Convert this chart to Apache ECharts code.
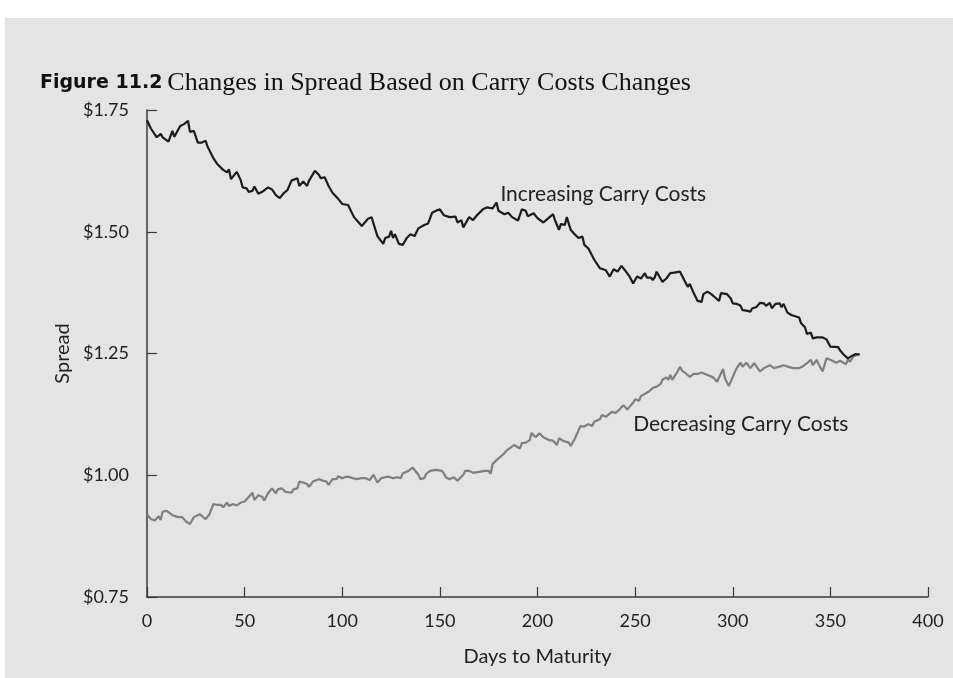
<!DOCTYPE html>
<html>
<head>
<meta charset="utf-8">
<script src="https://cdn.jsdelivr.net/npm/echarts@6/dist/echarts.min.js"></script>
<style>
  html, body { margin: 0; padding: 0; background: #ffffff; }
  #chart { position: absolute; left: 5px; top: 18px; width: 948px; height: 660px; }
</style>
</head>
<body>
<div id="chart"></div>
<script>
// Spread path when carry costs rise (days to maturity, spread in $)
const incDays = [0,2,5,7,8,11,13,14,15,17,19,20,21,22,24,26,28,30,31,32,34,36,37,39,41,42,43,44,46,48,49,51,52,54,55,57,59,60,62,64,66,68,70,72,74,77,78,80,82,83,84,86,88,89,91,93,95,96,98,100,101,103,106,108,110,112,113,115,116,118,119,121,122,124,125,126,127,129,131,132,133,135,137,139,140,142,144,146,148,150,152,155,158,159,161,162,165,167,169,172,174,177,179,180,183,185,187,190,192,194,195,198,200,203,205,208,209,211,212,214,215,217,219,221,223,224,226,227,229,232,235,237,239,241,243,245,247,249,251,253,255,256,258,259,260,261,263,264,266,268,270,271,273,275,276,277,278,280,282,284,285,287,289,290,291,293,294,297,299,300,302,304,305,307,309,310,312,314,316,317,319,320,322,324,325,326,328,330,331,334,335,337,338,340,341,343,346,348,350,351,354,355,357,359,361,363,365];
const incVals = [1.729,1.712,1.694,1.701,1.694,1.685,1.707,1.695,1.694,1.717,1.721,1.719,1.728,1.705,1.707,1.683,1.683,1.687,1.675,1.671,1.651,1.639,1.637,1.627,1.622,1.628,1.608,1.612,1.623,1.606,1.591,1.589,1.582,1.584,1.593,1.578,1.582,1.579,1.591,1.587,1.575,1.569,1.579,1.586,1.605,1.610,1.594,1.603,1.594,1.605,1.603,1.625,1.617,1.610,1.612,1.594,1.580,1.582,1.567,1.557,1.553,1.555,1.530,1.521,1.512,1.521,1.526,1.530,1.517,1.491,1.490,1.475,1.487,1.490,1.502,1.487,1.495,1.475,1.473,1.480,1.487,1.495,1.491,1.507,1.504,1.514,1.517,1.539,1.543,1.546,1.534,1.530,1.531,1.519,1.524,1.509,1.530,1.524,1.534,1.546,1.550,1.548,1.560,1.543,1.536,1.539,1.530,1.523,1.546,1.543,1.532,1.538,1.528,1.519,1.526,1.536,1.523,1.504,1.516,1.514,1.530,1.504,1.495,1.487,1.490,1.473,1.466,1.463,1.443,1.425,1.421,1.408,1.423,1.418,1.430,1.420,1.409,1.394,1.408,1.404,1.415,1.406,1.406,1.401,1.406,1.418,1.404,1.397,1.404,1.415,1.416,1.420,1.418,1.402,1.394,1.387,1.393,1.374,1.358,1.356,1.372,1.377,1.372,1.375,1.365,1.358,1.374,1.372,1.363,1.353,1.352,1.348,1.339,1.338,1.336,1.343,1.345,1.354,1.353,1.348,1.354,1.343,1.352,1.353,1.345,1.352,1.334,1.329,1.327,1.324,1.312,1.304,1.290,1.293,1.281,1.283,1.283,1.279,1.264,1.267,1.263,1.256,1.247,1.240,1.245,1.249,1.248];

// Spread path when carry costs fall
const decDays = [0,1,2,4,6,7,8,10,11,13,14,16,17,18,20,22,24,25,27,28,30,32,34,36,38,39,41,42,44,46,48,50,51,54,55,57,59,60,62,64,66,67,69,71,72,74,75,77,78,80,82,83,85,88,90,92,93,95,97,98,100,102,104,107,108,110,112,114,116,118,120,122,124,126,128,130,131,134,136,137,139,140,142,143,145,148,151,152,153,155,157,159,160,162,163,165,167,168,170,171,173,175,176,177,179,181,183,184,186,188,189,191,192,194,196,197,199,201,203,204,206,208,210,211,213,214,216,217,219,222,224,226,228,229,232,233,235,236,238,240,242,243,244,246,247,249,250,252,253,255,257,259,261,263,264,266,267,268,269,271,273,274,276,278,280,282,284,285,287,290,292,293,295,296,298,300,302,304,305,307,309,311,312,314,316,317,319,321,322,324,326,329,331,334,336,338,340,341,343,344,346,348,350,351,353,355,356,358,359,360,362,363,365];
const decVals = [0.920,0.918,0.910,0.907,0.916,0.908,0.925,0.927,0.925,0.918,0.922,0.914,0.910,0.914,0.905,0.900,0.914,0.910,0.920,0.923,0.910,0.920,0.941,0.939,0.939,0.934,0.944,0.937,0.941,0.938,0.944,0.946,0.946,0.964,0.949,0.959,0.956,0.948,0.963,0.973,0.963,0.971,0.973,0.966,0.968,0.964,0.971,0.973,0.987,0.985,0.982,0.976,0.987,0.992,0.989,0.987,0.980,0.992,0.992,0.998,0.994,0.997,0.996,0.992,0.989,0.994,0.994,0.990,1.001,0.985,0.994,0.996,0.997,0.994,0.996,0.994,1.004,1.009,1.016,1.016,1.001,0.992,0.994,1.003,1.009,1.011,1.009,1.004,0.996,0.992,0.996,0.989,0.990,1.001,1.009,1.009,1.005,1.009,1.007,1.011,1.009,1.009,1.003,1.023,1.031,1.038,1.045,1.050,1.056,1.062,1.064,1.055,1.066,1.067,1.072,1.087,1.078,1.086,1.078,1.081,1.072,1.071,1.062,1.076,1.071,1.072,1.067,1.060,1.074,1.101,1.100,1.105,1.101,1.110,1.115,1.124,1.120,1.124,1.130,1.128,1.135,1.135,1.144,1.135,1.140,1.149,1.156,1.153,1.163,1.167,1.172,1.179,1.182,1.187,1.196,1.201,1.196,1.206,1.196,1.208,1.223,1.215,1.209,1.202,1.208,1.208,1.211,1.211,1.206,1.201,1.192,1.194,1.218,1.199,1.183,1.202,1.220,1.231,1.223,1.231,1.220,1.230,1.226,1.213,1.220,1.216,1.226,1.220,1.218,1.223,1.226,1.222,1.220,1.220,1.224,1.230,1.237,1.226,1.237,1.228,1.213,1.240,1.237,1.238,1.231,1.235,1.233,1.228,1.238,1.233,1.245,1.242,1.248];

// Axis ticks
const xTicks = [0, 50, 100, 150, 200, 250, 300, 350, 400];
const yTicks = [0.75, 1.00, 1.25, 1.50, 1.75];

// Series labels placed next to each path
const incLabel = { text: 'Increasing Carry Costs', day: 181, value: 1.578 };
const decLabel = { text: 'Decreasing Carry Costs', day: 249, value: 1.104 };

const pairs = (d, v) => d.map((x, i) => [x, v[i]]);

const sansFont = 'Lato, "Open Sans", sans-serif';
const axisColor = '#3a3a3a';
const textColor = '#1f1f1f';

const chart = echarts.init(document.getElementById('chart'));

function seriesLabel(l, color) {
  return {
    symbol: 'circle',
    symbolSize: 0,
    silent: true,
    data: [{
      coord: [l.day, l.value],
      label: {
        show: true,
        formatter: l.text,
        position: [0, 0],
        align: 'left',
        verticalAlign: 'middle',
        color: color,
        fontFamily: sansFont,
        fontSize: 21
      }
    }]
  };
}

chart.setOption({
  backgroundColor: '#e4e4e4',
  animation: false,
  title: {
    left: 35,
    top: 52,
    padding: 0,
    text: '{a|Figure 11.2} {b|Changes in Spread Based on Carry Costs Changes}',
    textStyle: {
      fontWeight: 'normal',
      rich: {
        a: { fontFamily: '"DejaVu Sans", sans-serif', fontWeight: 'bold', fontSize: 19, color: '#111' },
        b: { fontFamily: '"Liberation Serif", serif', fontWeight: 'normal', fontSize: 26, color: '#111' }
      }
    }
  },
  grid: { left: 142, right: 25, top: 92, bottom: 81 },
  xAxis: {
    type: 'value',
    min: 0,
    max: 400,
    interval: 50,
    name: 'Days to Maturity',
    nameLocation: 'middle',
    nameGap: 50,
    nameTextStyle: { fontFamily: sansFont, fontSize: 20, color: textColor },
    axisLine: { show: true, lineStyle: { color: axisColor, width: 1.5 } },
    axisTick: { show: true, inside: true, length: 10, lineStyle: { color: axisColor, width: 1.2 },
                customValues: xTicks },
    axisLabel: { fontFamily: sansFont, fontSize: 18, color: textColor, margin: 15,
                 customValues: xTicks },
    splitLine: { show: false }
  },
  yAxis: {
    type: 'value',
    min: 0.75,
    max: 1.75,
    interval: 0.25,
    name: 'Spread',
    nameLocation: 'middle',
    nameGap: 74,
    nameRotate: 90,
    nameTextStyle: { fontFamily: sansFont, fontSize: 20, color: textColor },
    axisLine: { show: true, lineStyle: { color: axisColor, width: 1.5 } },
    axisTick: { show: true, inside: true, length: 10, lineStyle: { color: axisColor, width: 1.2 },
                customValues: yTicks },
    axisLabel: { fontFamily: sansFont, fontSize: 18, color: textColor, margin: 18,
                 customValues: yTicks,
                 formatter: v => '$' + v.toFixed(2) },
    splitLine: { show: false }
  },
  series: [
    {
      name: 'Increasing Carry Costs',
      type: 'line',
      data: pairs(incDays, incVals),
      showSymbol: false,
      lineStyle: { color: '#1c1c1c', width: 2.2 },
      z: 3,
      markPoint: seriesLabel(incLabel, '#222')
    },
    {
      name: 'Decreasing Carry Costs',
      type: 'line',
      data: pairs(decDays, decVals),
      showSymbol: false,
      lineStyle: { color: '#7f7f7f', width: 2.2 },
      z: 2,
      markPoint: seriesLabel(decLabel, '#222')
    }
  ]
});
</script>
</body>
</html>
